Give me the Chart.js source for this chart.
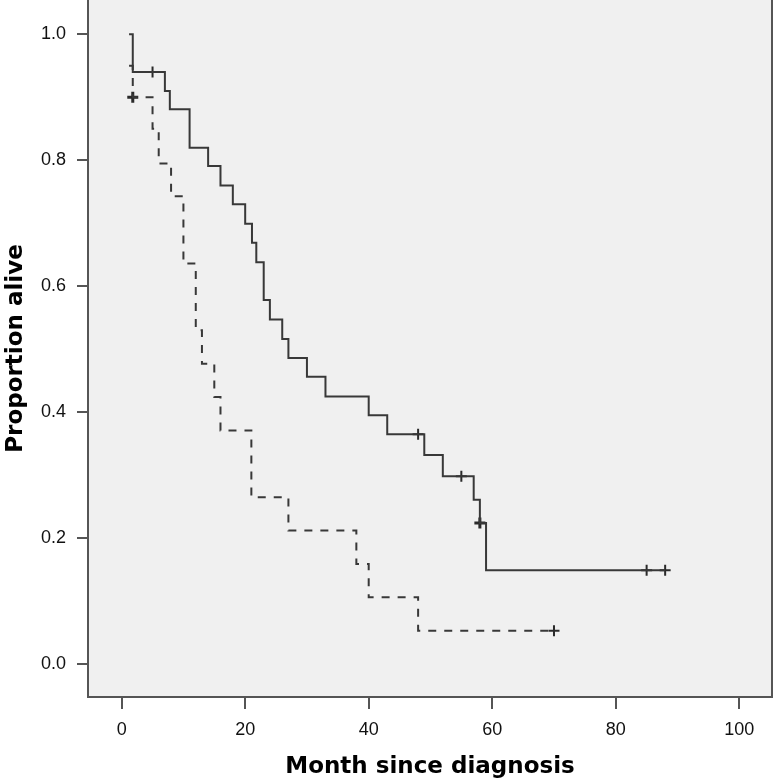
<!DOCTYPE html>
<html><head><meta charset="utf-8">
<script src="https://cdn.jsdelivr.net/npm/chart.js@4.4.1/dist/chart.umd.min.js"></script>
<style>html,body{margin:0;padding:0;background:#fff;}canvas{display:block;}</style>
</head><body>
<canvas id="c" width="774" height="783"></canvas>
<script>
// Group 1 (solid line): step times (months) and proportion alive
const solidTimes = [1.2, 1.8, 7.0, 7.8, 11, 14, 16, 18, 20, 21.1, 21.8, 23, 24, 26, 27, 30, 33, 40, 43, 49, 52, 57, 58, 59, 88];
const solidSurv  = [1.0, 0.94, 0.91, 0.881, 0.82, 0.791, 0.76, 0.73, 0.699, 0.669, 0.638, 0.578, 0.547, 0.516, 0.486, 0.456, 0.425, 0.395, 0.365, 0.332, 0.298, 0.261, 0.224, 0.149, 0.149];
// Group 2 (dashed line)
const dashedTimes = [1.2, 1.8, 5, 6, 8, 10, 12, 13, 15, 16, 21, 27, 38, 40, 48, 70];
const dashedSurv  = [0.95, 0.90, 0.85, 0.795, 0.743, 0.636, 0.53, 0.477, 0.424, 0.371, 0.265, 0.212, 0.159, 0.106, 0.053, 0.053];
// Censored observations
const solidCensorTimes = [5, 48, 55, 58, 85, 88];
const solidCensorSurv  = [0.94, 0.365, 0.298, 0.224, 0.149, 0.149];
const dashedCensorTimes = [1.8, 70];
const dashedCensorSurv  = [0.90, 0.053];
// Axes
const xTicks = [0, 20, 40, 60, 80, 100];
const yTicks = [0.0, 0.2, 0.4, 0.6, 0.8, 1.0];
const xTitle = 'Month since diagnosis';
const yTitle = 'Proportion alive';

const pts = (xs, ys) => xs.map((x, i) => ({x, y: ys[i]}));
const LINE = '#383838';
const AXIS = '#555555';

const bgPlugin = {
  id: 'bg',
  beforeDraw(chart) {
    const {ctx, chartArea: a} = chart;
    ctx.save();
    ctx.fillStyle = '#f0f0f0';
    ctx.fillRect(a.left, a.top, a.right - a.left, a.bottom - a.top);
    ctx.restore();
  },
  afterDraw(chart) {
    const {ctx, chartArea: a} = chart;
    ctx.save();
    ctx.strokeStyle = AXIS;
    ctx.lineWidth = 2;
    ctx.beginPath();
    ctx.moveTo(a.right, a.top);
    ctx.lineTo(a.right, a.bottom + 1);
    ctx.stroke();
    ctx.restore();
  }
};

const boldSolid = new Set([3]);
const boldDashed = new Set([0]);

new Chart(document.getElementById('c'), {
  type: 'line',
  data: {
    datasets: [
      {data: pts(solidTimes, solidSurv), borderColor: LINE, borderWidth: 2, pointRadius: 0, stepped: true, fill: false},
      {data: pts(dashedTimes, dashedSurv), borderColor: LINE, borderWidth: 2, borderDash: [8, 8], pointRadius: 0, stepped: true, fill: false},
      {data: pts(solidCensorTimes, solidCensorSurv), showLine: false, pointStyle: 'cross', pointRadius: 5.5,
       borderColor: '#2a2a2a', pointBorderWidth: c => boldSolid.has(c.dataIndex) ? 3 : 2},
      {data: pts(dashedCensorTimes, dashedCensorSurv), showLine: false, pointStyle: 'cross', pointRadius: 5.5,
       borderColor: '#2a2a2a', pointBorderWidth: c => boldDashed.has(c.dataIndex) ? 3 : 2}
    ]
  },
  options: {
    responsive: false,
    animation: false,
    devicePixelRatio: 1,
    layout: {autoPadding: false, padding: {top: 0, right: 2, bottom: 0, left: 0}},
    plugins: {legend: {display: false}, tooltip: {enabled: false}},
    scales: {
      x: {
        type: 'linear', min: -5.45, max: 105.3,
        afterBuildTicks: s => { s.ticks = xTicks.map(v => ({value: v})); },
        afterFit: s => { s.height = 86; s.paddingLeft = 0; s.paddingRight = 0; },
        grid: {drawOnChartArea: false, drawTicks: true, tickLength: 12, color: AXIS, lineWidth: 2},
        border: {display: true, color: AXIS, width: 2},
        ticks: {padding: 10, color: '#111', font: {family: "'Liberation Sans', Arial, sans-serif", size: 18},
                callback: v => String(v), maxRotation: 0, autoSkip: false},
        title: {display: true, text: xTitle, color: '#000', padding: {top: 0, bottom: 2},
                font: {family: "'DejaVu Sans', sans-serif", size: 23, weight: 'bold'}}
      },
      y: {
        type: 'linear', min: -0.0524, max: 1.0545,
        afterBuildTicks: s => { s.ticks = yTicks.map(v => ({value: v})); },
        afterFit: s => { s.width = 88; s.paddingTop = 0; s.paddingBottom = 0; },
        grid: {drawOnChartArea: false, drawTicks: true, tickLength: 11, color: AXIS, lineWidth: 2},
        border: {display: true, color: AXIS, width: 2},
        ticks: {padding: 11, color: '#111', font: {family: "'Liberation Sans', Arial, sans-serif", size: 18},
                callback: v => v.toFixed(1), autoSkip: false},
        title: {display: true, text: yTitle, color: '#000', padding: {top: 2, bottom: 0},
                font: {family: "'DejaVu Sans', sans-serif", size: 23, weight: 'bold'}}
      }
    }
  },
  plugins: [bgPlugin]
});
</script>
</body></html>
